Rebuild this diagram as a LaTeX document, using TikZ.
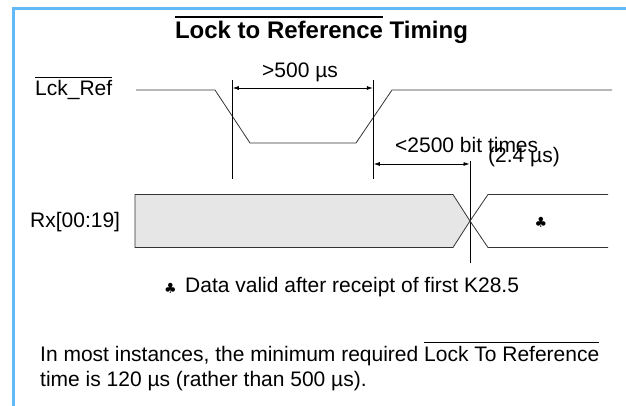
\documentclass[tikz,border=0pt]{standalone}
\usepackage{fontspec}
\setmainfont{Liberation Sans}
\newfontfamily\clubfont{DejaVu Sans}
\usetikzlibrary{arrows.meta}
\definecolor{frameblue}{RGB}{99,184,246}
\definecolor{busgray}{RGB}{230,230,230}
\newlength\ovlen
\newcommand\ovtext[3]{\settowidth\ovlen{#3}\rlap{\rule[#1]{\ovlen}{#2}}#3}
\begin{document}
\begin{tikzpicture}[x=1pt,y=-1pt,
  txt/.style={inner sep=0pt,anchor=base west,font=\fontsize{21}{25}\selectfont},
  club/.style={inner sep=0pt,font=\clubfont\fontsize{14}{14}\selectfont},
  sig/.style={line width=0.8pt,draw=black!80},
  vmark/.style={line width=0.9pt,draw=black},
  dim/.style={line width=0.7pt,{Latex[length=6pt,width=4pt]}-{Latex[length=6pt,width=4pt]}}]
\useasboundingbox (0,0) rectangle (626,406);
% frame
\draw[frameblue,line width=3pt] (13.5,406) -- (13.5,8.5) -- (626,8.5);
% title
\node[inner sep=0pt,anchor=base] (title) at (321.5,39)
  {\fontsize{24}{28}\selectfont\bfseries\ovtext{21pt}{1.6pt}{Lock to Reference} Timing};
% labels
\node[txt] (lck) at (35,96) {\ovtext{18pt}{1.3pt}{Lck\_Ref}};
\node[txt] (rx) at (30,227) {Rx[00:19]};
% Lck_Ref waveform
\coordinate (l0) at (136,90);
\coordinate (l1) at (215,90);
\coordinate (l2) at (250,143);
\coordinate (l3) at (356,143);
\coordinate (l4) at (392,90);
\coordinate (l5) at (612,90);
\draw[sig] (l0) -- (l1) -- (l2) -- (l3) -- (l4) -- (l5);
% vertical markers
\coordinate (v1t) at (232.3,80);
\coordinate (v1b) at (232.3,179);
\coordinate (v2t) at (373.3,80);
\coordinate (v2b) at (373.3,179);
\coordinate (v3t) at (470,161);
\coordinate (v3b) at (470,263);
\draw[vmark] (v1t) -- (v1b);
\draw[vmark] (v2t) -- (v2b);
\draw[vmark] (v3t) -- (v3b);
% dimension arrows
\coordinate (a1l) at (232.8,88);
\coordinate (a1r) at (372.8,88);
\draw[dim] (a1l) -- (a1r);
\node[txt] (d1) at (262,78) {>500 µs};
\coordinate (a2l) at (373.8,164);
\coordinate (a2r) at (469.5,164);
\draw[dim] (a2l) -- (a2r);
\node[txt] (d2) at (395,153) {<2500 bit times};
\node[txt] (d3) at (488,162.5) {(2.4 µs)};
% bus
\coordinate (x) at (470,221);
\draw[sig,fill=busgray] (135,194.5) -- (453,194.5) -- (x) -- (453,247.5) -- (135,247.5) -- cycle;
\draw[sig] (608,194.5) -- (488,194.5) -- (x) -- (488,247.5) -- (608,247.5);
\node[club] (c1) at (541,222) {♣};
% footnote
\node[club] (c2) at (170.5,288) {♣};
\node[txt] (fn) at (185,292) {Data valid after receipt of first K28.5};
% bottom text
\node[txt] (b1) at (40,361) {In most instances, the minimum required \ovtext{18pt}{1.3pt}{Lock To Reference}};
\node[txt] (b2) at (40,386) {time is 120 µs (rather than 500 µs).};
\end{tikzpicture}
\end{document}
